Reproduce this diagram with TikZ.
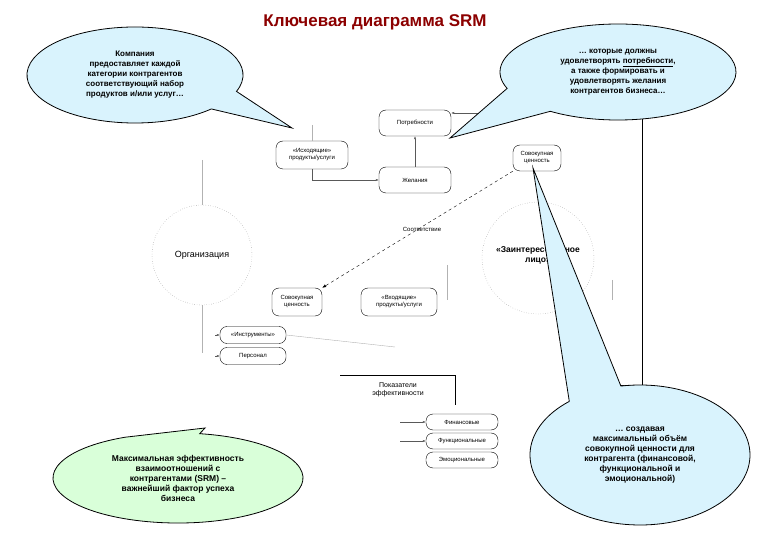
\documentclass[tikz,border=0pt]{standalone}
\usepackage{fontspec}
\setmainfont{Liberation Sans}
\usetikzlibrary{arrows.meta,calc}
\begin{document}
\begin{tikzpicture}[x=1pt,y=-1pt,
  rbox/.style={draw,rounded corners=7pt,font=\fontsize{6}{7}\selectfont,align=center,inner sep=1pt},
  ring/.style={draw,circle,dotted,gray},
  callblue/.style={draw,fill=cyan!15,line width=0.8pt},
  callgreen/.style={draw,fill=green!15,line width=0.8pt},
  ctext/.style={font=\fontsize{8.5}{10}\selectfont\bfseries,align=center},
  conn/.style={gray!70!black,-{Latex[length=3pt]}},
  thin/.style={gray!60}]
\useasboundingbox (0,0) rectangle (780,540);
\node[font=\fontsize{17}{20}\selectfont\bfseries,text=red!55!black] (title) at (375,22) {Ключевая диаграмма SRM};
% rings
\node[ring,minimum size=100pt] (org) at (202,255) {};
\node[font=\fontsize{9}{10}\selectfont] (orgt) at (202,255) {Организация};
\node[ring,minimum size=112pt] (st) at (538,258) {};
% nodes
\node[rbox,minimum width=72pt,minimum height=26pt] (need) at (415,123) {Потребности};
\node[rbox,minimum width=72pt,minimum height=28pt] (outp) at (312,155) {«Исходящие»\\продукты/услуги};
\node[rbox,minimum width=72pt,minimum height=26pt] (want) at (415,180) {Желания};
\node[rbox,minimum width=48pt,minimum height=26pt] (val1) at (537,158) {Совокупная\\ценность};
\node[rbox,minimum width=50pt,minimum height=28pt] (val2) at (297,302) {Совокупная\\ценность};
\node[rbox,minimum width=76pt,minimum height=28pt] (inp) at (399,302) {«Входящие»\\продукты/услуги};
\node[rbox,minimum width=66pt,minimum height=17pt] (tools) at (253,335) {«Инструменты»};
\node[rbox,minimum width=66pt,minimum height=17pt] (staff) at (253,356) {Персонал};
\node[rbox,minimum width=72pt,minimum height=16pt] (fin) at (462,422) {Финансовые};
\node[rbox,minimum width=72pt,minimum height=16pt] (fun) at (462,441) {Функциональные};
\node[rbox,minimum width=72pt,minimum height=16pt] (emo) at (462,460) {Эмоциональные};
\node[font=\fontsize{7}{8.5}\selectfont,align=center] (kpi) at (398,390) {Показатели\\эффективности};
\node[font=\fontsize{6}{7}\selectfont] (match) at (422,229) {Соответствие};
% connectors
\coordinate (p1) at (312,125);
\draw[thin] (p1) -- (outp.north);
\draw[conn] (outp.south) |- (want.west);
\coordinate (p3) at (500,113);
\draw[conn] (p3) -- (need.east |- p3);
\draw[conn] (want.north) -- (need.south);
\draw[dashed,-{Latex[length=4pt]}] (val1.south west) -- (val2.north east);
\coordinate (o1) at (202,160); \coordinate (o2) at (202,353);
\draw[thin] (o1) -- (org.north);
\draw[thin] (org.south) -- (o2);
\draw[conn] (215,335) -- (tools.west);
\draw[conn] (215,356) -- (staff.west);
\coordinate (t2) at (395,347);
\draw[thin] (tools.east) -- (t2);
\coordinate (k1) at (340,375); \coordinate (k2) at (455,405);
\draw (k1) -| (k2);
\draw[conn] (400,422) -- (fin.west);
\draw[conn] (400,441) -- (fun.west);
\coordinate (r1) at (642,118); \coordinate (r2) at (642,385); \coordinate (r3) at (620,385);
\draw (r1) -- (r2) -- (r3);
\draw[thin] (447,265) -- (447,300);
\draw[thin] (612,280) -- (612,300);
% callouts
\coordinate (e1) at (135,75);
\draw[callblue] (292,128) -- ($(e1)+(-20:108pt and 48pt)$) arc[start angle=-20,end angle=315,x radius=108pt,y radius=48pt] -- cycle;
\node[font=\fontsize{8}{10}\selectfont\bfseries,align=center] (c1) at (e1) {Компания\\предоставляет каждой\\категории контрагентов\\соответствующий набор\\продуктов и/или услуг…};
\coordinate (e2) at (618,72);
\draw[callblue] (450,138) -- ($(e2)+(235:118pt and 48pt)$) arc[start angle=235,end angle=560,x radius=118pt,y radius=48pt] -- cycle;
\node[font=\fontsize{8}{10}\selectfont\bfseries,align=center] (c2) at (e2) {… которые должны\\удовлетворять \underline{потребности},\\а также формировать и\\удовлетворять желания\\контрагентов бизнеса…};
\node[font=\fontsize{8.5}{10}\selectfont\bfseries,align=center] (stt) at (538,255) {«Заинтересованное\\лицо»};
\coordinate (e3) at (640,455);
\draw[callblue] (533,168) -- ($(e3)+(130:110pt and 70pt)$) arc[start angle=130,end angle=460,x radius=110pt,y radius=70pt] -- cycle;
\node[ctext] (c3) at (e3) {… создавая\\максимальный объём\\совокупной ценности для\\контрагента (финансовой,\\функциональной и\\эмоциональной)};
\coordinate (e4) at (178,478);
\draw[callgreen] (205,428) -- ($(e4)+(115:125pt and 45pt)$) arc[start angle=115,end angle=440,x radius=125pt,y radius=45pt] -- cycle;
\node[ctext] (c4) at (e4) {Максимальная эффективность\\взаимоотношений с\\контрагентами (SRM) –\\важнейший фактор успеха\\бизнеса};
\end{tikzpicture}
\end{document}
